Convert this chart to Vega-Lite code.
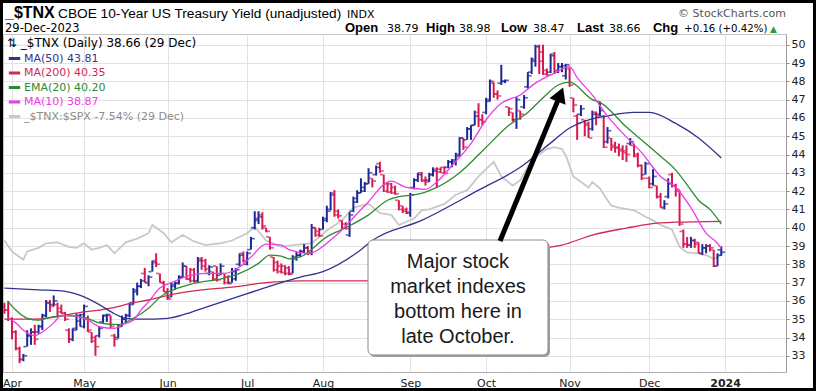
{
"$schema":"https://vega.github.io/schema/vega-lite/v6.json",
"width":783,"height":338,
"autosize":{"type":"none"},
"padding":{"left":3,"top":34,"right":30,"bottom":19},
"background":"#ffffff",
"config":{"view":{"stroke":"#c4c4c4"},"axis":{"labelFont":"DejaVu Sans","labelFontSize":11,"labelColor":"#222222","gridColor":"#e2e2e2","domainColor":"#9a9a9a","tickColor":"#8a8a8a","labelOverlap":false,"labelSeparation":0},"axisY":{"labelOverlap":false,"tickCount":20},"axisRight":{"labelOverlap":false}},
"datasets":{"tnx":[
{"d":"2023-03-30","o":35.7,"h":35.9,"l":35.3,"c":35.5,"ma50":36.7,"ma200":35.0,"rel":39.3},
{"d":"2023-03-31","o":35.5,"h":36.0,"l":34.9,"c":35.0,"ema20":35.95,"ma10":35.05},
{"d":"2023-04-03","o":35.0,"h":35.1,"l":33.9,"c":34.3,"rel":38.7},
{"d":"2023-04-04","o":34.3,"h":34.4,"l":33.3,"c":33.4,"ema20":35.5,"ma10":34.8},
{"d":"2023-04-05","o":33.4,"h":33.5,"l":32.6,"c":32.8},
{"d":"2023-04-06","o":32.8,"h":33.1,"l":32.7,"c":33.0,"ma10":34.4,"rel":38.25},
{"d":"2023-04-10","o":33.5,"h":34.4,"l":33.5,"c":34.1,"ema20":35.05,"rel":38.7},
{"d":"2023-04-11","o":34.1,"h":34.5,"l":33.6,"c":34.3},
{"d":"2023-04-12","o":34.3,"h":34.7,"l":33.6,"c":33.9,"ma200":35.0,"ma10":34.1},
{"d":"2023-04-13","o":34.3,"h":34.7,"l":34.2,"c":34.6,"ma50":36.6,"ema20":34.95,"rel":38.9},
{"d":"2023-04-14","o":34.6,"h":35.3,"l":34.4,"c":35.2,"ma10":34.3},
{"d":"2023-04-17","o":35.2,"h":36.05,"l":35.1,"c":35.9,"rel":39.15},
{"d":"2023-04-18","o":35.9,"h":36.05,"l":35.4,"c":35.7,"ema20":35.1},
{"d":"2023-04-19","o":35.8,"h":36.3,"l":35.7,"c":36.0,"ma10":34.8},
{"d":"2023-04-20","o":35.8,"h":35.9,"l":35.1,"c":35.4,"rel":39.2},
{"d":"2023-04-21","o":35.6,"h":35.8,"l":35.3,"c":35.35,"ma50":36.55,"ma10":35.2},
{"d":"2023-04-24","o":35.3,"h":35.4,"l":34.9,"c":35.0,"ema20":35.2},
{"d":"2023-04-25","o":34.4,"h":34.5,"l":33.7,"c":33.9,"rel":38.95},
{"d":"2023-04-26","o":33.9,"h":34.5,"l":33.8,"c":34.4,"ma10":35.2},
{"d":"2023-04-27","o":34.5,"h":35.3,"l":34.4,"c":35.2,"rel":38.9},
{"d":"2023-04-28","o":34.9,"h":35.3,"l":34.6,"c":35.25,"ma50":36.3},
{"d":"2023-05-01","o":34.6,"h":35.8,"l":34.5,"c":35.7,"ma200":35.4,"ema20":35.1,"rel":39.15},
{"d":"2023-05-02","o":35.0,"h":35.2,"l":34.3,"c":34.4,"ma10":34.95},
{"d":"2023-05-03","o":34.3,"h":34.3,"l":33.7,"c":33.8,"rel":38.8},
{"d":"2023-05-04","o":34.0,"h":34.1,"l":33.0,"c":33.5},
{"d":"2023-05-05","o":34.1,"h":34.6,"l":34.0,"c":34.5,"ma50":35.8,"ma200":35.5,"ema20":34.8,"ma10":34.6,"rel":38.9},
{"d":"2023-05-08","o":34.85,"h":35.25,"l":34.8,"c":35.2},
{"d":"2023-05-09","o":35.2,"h":35.3,"l":34.85,"c":35.25,"rel":39.05},
{"d":"2023-05-10","o":35.2,"h":35.2,"l":34.5,"c":34.6,"ma200":35.6},
{"d":"2023-05-11","o":34.1,"h":34.2,"l":33.5,"c":33.9,"ma50":35.3,"ma10":34.5,"rel":38.6},
{"d":"2023-05-12","o":34.0,"h":34.7,"l":33.95,"c":34.6,"ema20":34.7},
{"d":"2023-05-15","o":34.7,"h":35.2,"l":34.6,"c":35.0,"ma10":34.7},
{"d":"2023-05-16","o":35.0,"h":35.3,"l":34.8,"c":35.2,"ma50":35.05,"rel":39.2},
{"d":"2023-05-17","o":35.2,"h":35.9,"l":35.1,"c":35.8},
{"d":"2023-05-18","o":35.9,"h":36.7,"l":35.8,"c":36.6,"ma200":35.9,"ema20":35.05,"ma10":34.95},
{"d":"2023-05-19","o":36.5,"h":37.0,"l":36.3,"c":36.8,"rel":39.4},
{"d":"2023-05-22","o":36.8,"h":37.2,"l":36.7,"c":37.1,"ma50":35.0,"ma10":35.5},
{"d":"2023-05-23","o":37.5,"h":37.8,"l":37.0,"c":37.0},
{"d":"2023-05-24","o":37.0,"h":37.4,"l":36.8,"c":37.3,"ma200":36.05,"ema20":35.6,"ma10":35.95,"rel":39.7},
{"d":"2023-05-25","o":37.6,"h":38.2,"l":37.6,"c":38.1,"rel":40.15},
{"d":"2023-05-26","o":38.2,"h":38.6,"l":37.85,"c":38.0},
{"d":"2023-05-30","o":37.5,"h":37.5,"l":37.0,"c":37.0,"ema20":36.2,"ma10":36.7},
{"d":"2023-05-31","o":37.0,"h":37.1,"l":36.5,"c":36.5,"rel":39.7},
{"d":"2023-06-01","o":36.5,"h":36.7,"l":36.05,"c":36.1,"ma50":35.05,"ma200":36.3},
{"d":"2023-06-02","o":36.2,"h":37.0,"l":36.2,"c":36.9,"ma10":37.0,"rel":39.2},
{"d":"2023-06-05","o":36.8,"h":37.05,"l":36.6,"c":36.95},
{"d":"2023-06-06","o":37.0,"h":37.4,"l":36.9,"c":37.3},
{"d":"2023-06-07","o":37.3,"h":38.1,"l":37.25,"c":37.9,"rel":39.6},
{"d":"2023-06-08","o":37.9,"h":37.9,"l":37.15,"c":37.2,"ma50":35.3},
{"d":"2023-06-09","o":37.2,"h":37.8,"l":37.0,"c":37.1,"ema20":36.9,"ma10":37.4},
{"d":"2023-06-12","o":37.7,"h":37.8,"l":37.0,"c":37.05,"rel":39.25},
{"d":"2023-06-13","o":37.1,"h":38.4,"l":37.0,"c":38.2},
{"d":"2023-06-14","o":38.3,"h":38.4,"l":37.7,"c":37.9,"ma200":36.6},
{"d":"2023-06-15","o":38.2,"h":38.3,"l":37.6,"c":37.75,"ma50":35.65,"ma10":37.5,"rel":39.05},
{"d":"2023-06-16","o":37.5,"h":37.95,"l":37.4,"c":37.85},
{"d":"2023-06-20","o":37.6,"h":37.6,"l":37.1,"c":37.2},
{"d":"2023-06-21","o":37.9,"h":37.9,"l":37.05,"c":37.15},
{"d":"2023-06-22","o":37.4,"h":38.05,"l":37.4,"c":37.9,"rel":39.15},
{"d":"2023-06-23","o":37.5,"h":37.5,"l":36.9,"c":37.0,"ema20":37.25,"ma10":37.5},
{"d":"2023-06-26","o":37.3,"h":37.4,"l":36.9,"c":36.95},
{"d":"2023-06-27","o":37.0,"h":37.8,"l":37.0,"c":37.6,"ma200":36.75,"rel":39.3},
{"d":"2023-06-28","o":37.2,"h":37.8,"l":37.1,"c":37.7},
{"d":"2023-06-29","o":38.0,"h":38.6,"l":37.9,"c":38.5,"ema20":37.5,"ma10":37.85},
{"d":"2023-06-30","o":38.6,"h":38.7,"l":38.1,"c":38.2},
{"d":"2023-07-03","o":38.0,"h":38.7,"l":37.95,"c":38.6,"ma50":36.4,"rel":39.7},
{"d":"2023-07-05","o":38.8,"h":39.5,"l":38.8,"c":39.4,"ma10":38.4},
{"d":"2023-07-06","o":40.0,"h":40.9,"l":39.9,"c":40.5,"rel":40.05},
{"d":"2023-07-07","o":40.4,"h":40.9,"l":40.2,"c":40.6,"ema20":38.05},
{"d":"2023-07-10","o":40.7,"h":40.85,"l":39.9,"c":40.1},
{"d":"2023-07-11","o":40.0,"h":40.0,"l":39.75,"c":39.8,"ma200":37.0,"ma10":39.1,"rel":39.3},
{"d":"2023-07-12","o":39.5,"h":39.5,"l":38.8,"c":38.9,"ema20":38.5},
{"d":"2023-07-13","o":38.4,"h":38.4,"l":37.6,"c":37.7},
{"d":"2023-07-14","o":38.1,"h":38.2,"l":37.5,"c":37.6},
{"d":"2023-07-17","o":37.9,"h":38.05,"l":37.5,"c":37.55,"ma50":37.0,"ema20":38.45,"ma10":39.05,"rel":38.95},
{"d":"2023-07-18","o":37.9,"h":37.95,"l":37.4,"c":37.5},
{"d":"2023-07-19","o":37.8,"h":37.9,"l":37.4,"c":37.45,"ema20":38.3,"ma10":38.8},
{"d":"2023-07-20","o":37.5,"h":38.5,"l":37.5,"c":38.4,"rel":39.05},
{"d":"2023-07-21","o":38.3,"h":38.7,"l":38.2,"c":38.5},
{"d":"2023-07-24","o":38.5,"h":38.8,"l":38.4,"c":38.7,"ma50":37.3,"ma200":37.1,"ema20":38.4},
{"d":"2023-07-25","o":38.7,"h":39.1,"l":38.6,"c":38.9},
{"d":"2023-07-26","o":38.9,"h":39.0,"l":38.5,"c":38.6,"ma10":38.6},
{"d":"2023-07-27","o":38.6,"h":40.2,"l":38.5,"c":40.0,"rel":39.15},
{"d":"2023-07-28","o":40.0,"h":40.0,"l":39.5,"c":39.6},
{"d":"2023-07-31","o":39.8,"h":40.0,"l":39.5,"c":39.55},
{"d":"2023-08-01","o":39.9,"h":40.6,"l":39.9,"c":40.5,"ma50":37.6},
{"d":"2023-08-02","o":40.4,"h":41.2,"l":40.3,"c":40.9,"ema20":39.5,"rel":39.85},
{"d":"2023-08-03","o":41.0,"h":41.95,"l":40.95,"c":41.8},
{"d":"2023-08-04","o":41.9,"h":42.05,"l":40.6,"c":40.7,"ma200":37.1,"ma10":39.5},
{"d":"2023-08-07","o":40.9,"h":41.0,"l":40.5,"c":40.65},
{"d":"2023-08-08","o":40.4,"h":40.4,"l":39.9,"c":40.0,"rel":40.4},
{"d":"2023-08-09","o":40.2,"h":40.3,"l":39.9,"c":39.95,"ema20":40.0},
{"d":"2023-08-10","o":39.6,"h":40.85,"l":39.5,"c":40.7},
{"d":"2023-08-11","o":40.9,"h":41.7,"l":40.85,"c":41.6,"rel":41.1},
{"d":"2023-08-14","o":41.4,"h":42.05,"l":41.35,"c":41.9},
{"d":"2023-08-15","o":41.9,"h":42.7,"l":41.9,"c":42.2,"ma50":38.8},
{"d":"2023-08-16","o":42.0,"h":42.5,"l":41.95,"c":42.4,"ma10":41.2},
{"d":"2023-08-17","o":42.4,"h":43.25,"l":42.4,"c":43.0,"ma200":37.1,"ema20":40.7,"rel":41.3},
{"d":"2023-08-18","o":42.7,"h":42.7,"l":42.2,"c":42.55,"ma50":39.3},
{"d":"2023-08-21","o":42.9,"h":43.4,"l":42.85,"c":43.3},
{"d":"2023-08-22","o":43.5,"h":43.6,"l":43.0,"c":43.1,"rel":40.8},
{"d":"2023-08-23","o":42.9,"h":42.9,"l":41.95,"c":42.0},
{"d":"2023-08-24","o":42.4,"h":42.5,"l":41.9,"c":41.95,"ema20":41.5},
{"d":"2023-08-25","o":42.4,"h":42.45,"l":41.85,"c":41.9,"ma10":42.55,"rel":40.7},
{"d":"2023-08-28","o":42.2,"h":42.3,"l":41.8,"c":41.85},
{"d":"2023-08-29","o":41.5,"h":41.5,"l":40.95,"c":41.0,"ema20":41.7,"rel":40.15},
{"d":"2023-08-30","o":41.2,"h":41.2,"l":40.8,"c":40.9},
{"d":"2023-08-31","o":41.0,"h":41.1,"l":40.75,"c":40.85,"ma10":42.2},
{"d":"2023-09-01","o":40.8,"h":41.9,"l":40.6,"c":41.8},
{"d":"2023-09-05","o":42.2,"h":42.7,"l":42.1,"c":42.6,"ema20":41.8,"rel":40.5},
{"d":"2023-09-06","o":42.6,"h":43.0,"l":42.5,"c":42.9},
{"d":"2023-09-07","o":43.0,"h":43.05,"l":42.5,"c":42.55,"ma50":40.4,"rel":40.95},
{"d":"2023-09-08","o":42.6,"h":42.8,"l":42.3,"c":42.5,"ema20":41.95,"ma10":42.1},
{"d":"2023-09-11","o":42.6,"h":43.0,"l":42.5,"c":42.9,"rel":41.0},
{"d":"2023-09-12","o":42.9,"h":43.3,"l":42.8,"c":43.1},
{"d":"2023-09-13","o":43.2,"h":43.3,"l":42.2,"c":43.05,"ema20":42.2,"ma10":42.5},
{"d":"2023-09-14","o":43.2,"h":43.3,"l":43.0,"c":43.0},
{"d":"2023-09-15","o":43.3,"h":43.35,"l":42.95,"c":42.97,"rel":41.3},
{"d":"2023-09-18","o":43.3,"h":43.7,"l":43.25,"c":43.6},
{"d":"2023-09-19","o":43.6,"h":43.75,"l":43.3,"c":43.7,"ma200":37.9,"ma10":43.4},
{"d":"2023-09-20","o":43.6,"h":44.1,"l":43.4,"c":43.9,"rel":41.8},
{"d":"2023-09-21","o":44.0,"h":44.95,"l":43.9,"c":44.9,"ema20":43.0},
{"d":"2023-09-22","o":44.9,"h":44.9,"l":44.25,"c":44.4},
{"d":"2023-09-25","o":44.8,"h":45.5,"l":44.8,"c":45.4,"rel":42.05},
{"d":"2023-09-26","o":45.4,"h":45.6,"l":44.8,"c":45.6,"ma10":44.6},
{"d":"2023-09-27","o":45.6,"h":46.4,"l":45.6,"c":46.1},
{"d":"2023-09-28","o":46.3,"h":46.8,"l":45.5,"c":45.9,"ma50":42.05,"rel":42.8},
{"d":"2023-09-29","o":45.9,"h":46.2,"l":45.6,"c":45.8},
{"d":"2023-10-02","o":46.3,"h":47.1,"l":46.2,"c":46.9,"ema20":44.4,"ma10":45.9},
{"d":"2023-10-03","o":47.0,"h":48.1,"l":46.9,"c":48.0},
{"d":"2023-10-04","o":47.9,"h":47.95,"l":47.1,"c":47.3,"rel":43.6},
{"d":"2023-10-05","o":47.3,"h":47.5,"l":47.0,"c":47.2},
{"d":"2023-10-06","o":47.9,"h":48.9,"l":47.8,"c":48.0,"ma10":46.8,"rel":42.8},
{"d":"2023-10-09","o":48.0,"h":48.1,"l":47.9,"c":48.05},
{"d":"2023-10-10","o":46.6,"h":46.6,"l":46.1,"c":46.5,"ema20":45.6},
{"d":"2023-10-11","o":46.3,"h":46.3,"l":45.8,"c":45.9,"rel":42.3},
{"d":"2023-10-12","o":45.9,"h":47.15,"l":45.4,"c":47.0},
{"d":"2023-10-13","o":46.4,"h":46.4,"l":45.9,"c":46.2,"ma50":43.3,"ma10":47.25,"rel":42.6},
{"d":"2023-10-16","o":46.6,"h":47.25,"l":46.5,"c":47.1},
{"d":"2023-10-17","o":47.7,"h":48.5,"l":47.6,"c":48.3,"ema20":46.3},
{"d":"2023-10-18","o":48.5,"h":49.3,"l":48.4,"c":49.1,"rel":43.7},
{"d":"2023-10-19","o":49.2,"h":50.0,"l":48.8,"c":49.9,"ma10":47.9},
{"d":"2023-10-20","o":49.9,"h":50.0,"l":48.4,"c":49.1},
{"d":"2023-10-23","o":49.6,"h":50.0,"l":48.35,"c":48.4,"ema20":47.1},
{"d":"2023-10-24","o":48.6,"h":48.7,"l":48.3,"c":48.35,"ma200":38.9,"rel":44.3},
{"d":"2023-10-25","o":48.5,"h":49.5,"l":48.45,"c":49.4},
{"d":"2023-10-26","o":49.5,"h":49.6,"l":48.4,"c":48.6,"ma50":44.8,"ma10":48.45,"rel":44.4},
{"d":"2023-10-27","o":48.5,"h":49.0,"l":48.45,"c":48.8,"ema20":47.8},
{"d":"2023-10-30","o":48.8,"h":49.0,"l":48.5,"c":48.85,"ma200":39.05,"rel":44.3},
{"d":"2023-10-31","o":48.3,"h":48.95,"l":48.1,"c":48.9,"rel":43.95},
{"d":"2023-11-01","o":48.7,"h":48.75,"l":47.7,"c":47.8,"ma50":45.45,"ema20":47.95,"ma10":48.8},
{"d":"2023-11-02","o":47.1,"h":47.1,"l":46.3,"c":46.7,"rel":42.8},
{"d":"2023-11-03","o":46.1,"h":46.2,"l":44.8,"c":45.7,"ma10":48.2},
{"d":"2023-11-06","o":46.2,"h":46.7,"l":46.1,"c":46.5,"rel":42.5},
{"d":"2023-11-07","o":45.9,"h":45.9,"l":45.0,"c":45.7},
{"d":"2023-11-08","o":45.6,"h":45.8,"l":44.9,"c":44.9,"rel":42.2},
{"d":"2023-11-09","o":45.4,"h":46.4,"l":45.3,"c":46.2,"ma200":39.6,"ema20":47.0,"ma10":47.25,"rel":42.5},
{"d":"2023-11-10","o":46.3,"h":46.35,"l":45.6,"c":46.1},
{"d":"2023-11-13","o":46.2,"h":46.9,"l":46.1,"c":46.4,"ema20":46.85,"rel":42.15},
{"d":"2023-11-14","o":46.1,"h":46.15,"l":44.35,"c":44.4},
{"d":"2023-11-15","o":44.7,"h":45.5,"l":44.6,"c":45.3,"ma10":46.1,"rel":41.5},
{"d":"2023-11-16","o":44.9,"h":44.9,"l":44.2,"c":44.4,"ma50":46.15,"rel":41.2},
{"d":"2023-11-17","o":44.5,"h":44.7,"l":44.1,"c":44.35},
{"d":"2023-11-20","o":44.4,"h":44.6,"l":43.9,"c":44.2,"rel":41.1},
{"d":"2023-11-21","o":44.3,"h":44.5,"l":43.7,"c":44.1},
{"d":"2023-11-22","o":44.2,"h":44.5,"l":43.6,"c":44.0,"ma200":39.98,"ema20":45.5,"ma10":44.95},
{"d":"2023-11-24","o":44.6,"h":44.9,"l":44.5,"c":44.7},
{"d":"2023-11-27","o":44.5,"h":44.6,"l":43.85,"c":43.9,"ma50":46.3,"rel":40.95},
{"d":"2023-11-28","o":44.0,"h":44.1,"l":43.3,"c":43.4},
{"d":"2023-11-29","o":43.4,"h":43.45,"l":42.6,"c":42.7,"ma10":44.1},
{"d":"2023-11-30","o":42.9,"h":43.6,"l":42.9,"c":43.5,"rel":40.6},
{"d":"2023-12-01","o":42.7,"h":42.8,"l":42.15,"c":42.2,"ma50":46.3,"ma200":40.2},
{"d":"2023-12-04","o":42.4,"h":43.2,"l":42.3,"c":42.8,"rel":40.4},
{"d":"2023-12-05","o":42.3,"h":42.3,"l":41.6,"c":41.7},
{"d":"2023-12-06","o":41.7,"h":41.9,"l":41.1,"c":41.1,"ema20":43.9,"ma10":42.8,"rel":40.15},
{"d":"2023-12-07","o":41.1,"h":41.5,"l":41.0,"c":41.3},
{"d":"2023-12-08","o":41.7,"h":42.7,"l":41.6,"c":42.4},
{"d":"2023-12-11","o":42.9,"h":43.0,"l":42.2,"c":42.3,"rel":39.9},
{"d":"2023-12-12","o":42.3,"h":42.4,"l":41.7,"c":42.1,"ma50":45.7,"ma200":40.3,"ema20":43.15,"ma10":42.2},
{"d":"2023-12-13","o":42.0,"h":42.05,"l":40.1,"c":40.2,"rel":38.95},
{"d":"2023-12-14","o":39.8,"h":39.9,"l":38.9,"c":39.1},
{"d":"2023-12-15","o":39.1,"h":39.5,"l":38.9,"c":39.05,"rel":38.65},
{"d":"2023-12-18","o":39.05,"h":39.5,"l":38.9,"c":39.3,"ema20":42.05,"ma10":41.1},
{"d":"2023-12-19","o":39.3,"h":39.4,"l":38.9,"c":39.2},
{"d":"2023-12-20","o":39.1,"h":39.2,"l":38.6,"c":38.6,"ma50":44.9,"ema20":41.5,"rel":38.6},
{"d":"2023-12-21","o":38.6,"h":39.1,"l":38.5,"c":38.9},
{"d":"2023-12-22","o":38.9,"h":39.1,"l":38.6,"c":39.0,"ma10":39.7,"rel":38.5},
{"d":"2023-12-26","o":39.0,"h":39.1,"l":38.7,"c":38.9,"ema20":41.0},
{"d":"2023-12-27","o":38.8,"h":38.8,"l":37.85,"c":37.9,"rel":38.3},
{"d":"2023-12-28","o":37.9,"h":38.6,"l":37.9,"c":38.5,"ma10":39.15},
{"d":"2023-12-29","o":38.79,"h":38.98,"l":38.47,"c":38.66,"ma50":43.81,"ma200":40.35,"ema20":40.2,"ma10":38.87,"rel":38.5}
]},
"layer":[
{"data":{"name":"tnx"},
 "transform":[{"window":[{"op":"row_number","as":"n"}],"sort":[{"field":"d"}]},{"fold":["rel"],"as":["s","v"]},{"filter":"isValid(datum.v)"}],
 "mark":{"type":"line","strokeWidth":1.8,"clip":true},
 "encoding":{
  "x":{"field":"n","type":"quantitative","title":null,"scale":{"domain":[0.627,207.06],"nice":false,"zero":false},
   "axis":{"orient":"bottom","values":[3,22,44,65,85,108,128,150,171,191],"labelExpr":"datum.value==3?'Apr':datum.value==22?'May':datum.value==44?'Jun':datum.value==65?'Jul':datum.value==85?'Aug':datum.value==108?'Sep':datum.value==128?'Oct':datum.value==150?'Nov':datum.value==171?'Dec':'2024'","grid":true,"ticks":false,"domainDash":[1,2],"domainColor":"#888888","labelPadding":5,"labelOverlap":false,"labelFlush":false,"labelFontWeight":{"condition":{"test":"datum.value == 191","value":"bold"},"value":"normal"}}},
  "y":{"field":"v","type":"quantitative","title":null,"scale":{"domain":[32.115,50.585],"nice":false,"zero":false},
   "axis":{"orient":"right","values":[33,34,35,36,37,38,39,40,41,42,43,44,45,46,47,48,49,50],"format":"d","grid":true,"tickSize":3,"labelPadding":2,"labelOverlap":false}},
  "color":{"field":"s","type":"nominal","scale":{"domain":["ma50","ma200","ema20","ma10","rel"],"range":["#33338f","#cf2a52","#2f8a34","#ec3ce6","#c8c8c8"]},
   "legend":{"orient":"top-left","offset":4,"padding":0,"title":"⇅ _$TNX (Daily) 38.66 (29 Dec)","titleFont":"DejaVu Sans","titleFontSize":12,"titleFontWeight":"normal","titleColor":"#000000","titleLimit":400,"titlePadding":1,"labelFont":"DejaVu Sans","labelFontSize":11,"labelLimit":400,"labelOffset":2,"symbolType":"stroke","symbolSize":130,"symbolStrokeWidth":3,"rowPadding":0.5,
    "labelExpr":"datum.value == 'ma50' ? 'MA(50) 43.81' : datum.value == 'ma200' ? 'MA(200) 40.35' : datum.value == 'ema20' ? 'EMA(20) 40.20' : datum.value == 'ma10' ? 'MA(10) 38.87' : '_$TNX:$SPX -7.54% (29 Dec)'",
    "encode":{"labels":{"update":{"fill":{"signal":"datum.value == 'rel' ? '#8c8c8c' : scale('color', datum.value)"}}}}}}
 }},
{"data":{"name":"tnx"},
 "transform":[{"window":[{"op":"row_number","as":"n"},{"op":"lag","field":"c","as":"pc"}],"sort":[{"field":"d"}]}],
 "encoding":{"x":{"field":"n","type":"quantitative","title":null},
  "color":{"condition":{"test":"datum.pc != null && datum.c >= datum.pc","value":"#1c2796"},"value":"#d6194f"}},
 "layer":[
  {"mark":{"type":"rule","strokeWidth":2,"clip":true},"encoding":{"y":{"field":"l","type":"quantitative","title":null,"axis":{"orient":"right","values":[33,34,35,36,37,38,39,40,41,42,43,44,45,46,47,48,49,50],"format":"d","grid":true,"tickSize":3,"labelPadding":2,"labelOverlap":false}},"y2":{"field":"h"}}},
  {"mark":{"type":"tick","orient":"horizontal","size":3,"thickness":1.7,"xOffset":-2.3,"clip":true},"encoding":{"y":{"field":"o","type":"quantitative","title":null,"axis":{"orient":"right","values":[33,34,35,36,37,38,39,40,41,42,43,44,45,46,47,48,49,50],"format":"d","grid":true,"tickSize":3,"labelPadding":2,"labelOverlap":false}}}},
  {"mark":{"type":"tick","orient":"horizontal","size":3,"thickness":1.7,"xOffset":2.3,"clip":true},"encoding":{"y":{"field":"c","type":"quantitative","title":null,"axis":{"orient":"right","values":[33,34,35,36,37,38,39,40,41,42,43,44,45,46,47,48,49,50],"format":"d","grid":true,"tickSize":3,"labelPadding":2,"labelOverlap":false}}}}
 ]},
{"data":{"name":"tnx"},
 "transform":[{"window":[{"op":"row_number","as":"n"}],"sort":[{"field":"d"}]},{"fold":["ma200","ma50","ema20","ma10"],"as":["s","v"]},{"filter":"isValid(datum.v)"}],
 "mark":{"type":"line","strokeWidth":1.3,"interpolate":"monotone","clip":true},
 "encoding":{
  "x":{"field":"n","type":"quantitative","title":null},
  "y":{"field":"v","type":"quantitative","title":null,"axis":{"orient":"right","values":[33,34,35,36,37,38,39,40,41,42,43,44,45,46,47,48,49,50],"format":"d","grid":true,"tickSize":3,"labelPadding":2,"labelOverlap":false}},
  "color":{"field":"s","type":"nominal"}
 }},
{"data":{"values":[{}]},
 "mark":{"type":"rect","fill":"#a0a0a0","cornerRadius":5,"xOffset":2,"x2Offset":2,"yOffset":2,"y2Offset":2},
 "encoding":{"x":{"datum":96.86,"type":"quantitative","title":null},"x2":{"datum":144.31},"y":{"datum":39.328,"type":"quantitative","title":null},"y2":{"datum":33.044}}},
{"data":{"values":[{}]},
 "mark":{"type":"rect","fill":"#ffffff","stroke":"#8a8a8a","strokeWidth":1,"cornerRadius":5},
 "encoding":{"x":{"datum":96.86,"type":"quantitative","title":null},"x2":{"datum":144.31},"y":{"datum":39.328,"type":"quantitative","title":null},"y2":{"datum":33.044}}},
{"data":{"values":[{}]},
 "mark":{"type":"text","text":["Major stock","market indexes","bottom here in","late October."],"font":"Liberation Sans","fontSize":20,"lineHeight":25,"align":"center","baseline":"middle","color":"#1a1a1a"},
 "encoding":{"x":{"datum":120.58,"type":"quantitative","title":null},"y":{"datum":38.126,"type":"quantitative","title":null}}},
{"data":{"values":[{}]},
 "mark":{"type":"rule","strokeWidth":5,"color":"#000000","strokeCap":"butt"},
 "encoding":{"x":{"datum":131.66,"type":"quantitative","title":null},"y":{"datum":39.27,"type":"quantitative","title":null},"x2":{"datum":146.87},"y2":{"datum":46.93}}},
{"data":{"values":[{}]},
 "mark":{"type":"point","shape":"triangle-up","angle":22,"size":300,"filled":true,"color":"#000000","opacity":1},
 "encoding":{"x":{"datum":147.56,"type":"quantitative","title":null},"y":{"datum":47.28,"type":"quantitative","title":null}}},
{"data":{"values":[{}]},
 "mark":{"type":"rect","fillOpacity":0,"stroke":"#000000","strokeWidth":3,"clip":false},
 "encoding":{"x":{"datum":0.232,"type":"quantitative","title":null},"x2":{"datum":214.57},"y":{"datum":52.361,"type":"quantitative","title":null},"y2":{"datum":31.158}}},
{"data":{"values":[{}]},"mark":{"type":"text","text":"_$TNX","font":"Liberation Sans","fontSize":16,"fontWeight":"bold","align":"left","baseline":"alphabetic","color":"#000000"},
 "encoding":{"x":{"datum":1.154,"type":"quantitative","title":null},"y":{"datum":51.459,"type":"quantitative","title":null}}},
{"data":{"values":[{}]},"mark":{"type":"text","text":"CBOE 10-Year US Treasury Yield (unadjusted)","font":"Liberation Sans","fontSize":13.7,"align":"left","baseline":"alphabetic","color":"#000000"},
 "encoding":{"x":{"datum":15.128,"type":"quantitative","title":null},"y":{"datum":51.486,"type":"quantitative","title":null}}},
{"data":{"values":[{}]},"mark":{"type":"text","text":"INDX","font":"DejaVu Sans","fontSize":11,"align":"left","baseline":"alphabetic","color":"#000000"},
 "encoding":{"x":{"datum":91.32,"type":"quantitative","title":null},"y":{"datum":51.486,"type":"quantitative","title":null}}},
{"data":{"values":[{}]},"mark":{"type":"text","text":"© StockCharts.com","font":"DejaVu Sans","fontSize":11,"align":"right","baseline":"alphabetic","color":"#555555"},
 "encoding":{"x":{"datum":207.06,"type":"quantitative","title":null},"y":{"datum":51.514,"type":"quantitative","title":null}}},
{"data":{"values":[{}]},"mark":{"type":"text","text":"29-Dec-2023","font":"DejaVu Sans","fontSize":11.5,"align":"left","baseline":"alphabetic","color":"#000000"},
 "encoding":{"x":{"datum":1.154,"type":"quantitative","title":null},"y":{"datum":50.667,"type":"quantitative","title":null}}},
{"data":{"values":[{}]},"mark":{"type":"text","text":"Open","font":"Liberation Sans","fontSize":13,"fontWeight":"bold","align":"left","baseline":"alphabetic","color":"#000000"},
 "encoding":{"x":{"datum":90.79,"type":"quantitative","title":null},"y":{"datum":50.667,"type":"quantitative","title":null}}},
{"data":{"values":[{}]},"mark":{"type":"text","text":"38.79","font":"DejaVu Sans","fontSize":11,"align":"left","baseline":"alphabetic","color":"#000000"},
 "encoding":{"x":{"datum":101.87,"type":"quantitative","title":null},"y":{"datum":50.667,"type":"quantitative","title":null}}},
{"data":{"values":[{}]},"mark":{"type":"text","text":"High","font":"Liberation Sans","fontSize":13,"fontWeight":"bold","align":"left","baseline":"alphabetic","color":"#000000"},
 "encoding":{"x":{"datum":112.15,"type":"quantitative","title":null},"y":{"datum":50.667,"type":"quantitative","title":null}}},
{"data":{"values":[{}]},"mark":{"type":"text","text":"38.98","font":"DejaVu Sans","fontSize":11,"align":"left","baseline":"alphabetic","color":"#000000"},
 "encoding":{"x":{"datum":120.85,"type":"quantitative","title":null},"y":{"datum":50.667,"type":"quantitative","title":null}}},
{"data":{"values":[{}]},"mark":{"type":"text","text":"Low","font":"Liberation Sans","fontSize":13,"fontWeight":"bold","align":"left","baseline":"alphabetic","color":"#000000"},
 "encoding":{"x":{"datum":131.92,"type":"quantitative","title":null},"y":{"datum":50.667,"type":"quantitative","title":null}}},
{"data":{"values":[{}]},"mark":{"type":"text","text":"38.47","font":"DejaVu Sans","fontSize":11,"align":"left","baseline":"alphabetic","color":"#000000"},
 "encoding":{"x":{"datum":140.36,"type":"quantitative","title":null},"y":{"datum":50.667,"type":"quantitative","title":null}}},
{"data":{"values":[{}]},"mark":{"type":"text","text":"Last","font":"Liberation Sans","fontSize":13,"fontWeight":"bold","align":"left","baseline":"alphabetic","color":"#000000"},
 "encoding":{"x":{"datum":151.96,"type":"quantitative","title":null},"y":{"datum":50.667,"type":"quantitative","title":null}}},
{"data":{"values":[{}]},"mark":{"type":"text","text":"38.66","font":"DejaVu Sans","fontSize":11,"align":"left","baseline":"alphabetic","color":"#000000"},
 "encoding":{"x":{"datum":160.4,"type":"quantitative","title":null},"y":{"datum":50.667,"type":"quantitative","title":null}}},
{"data":{"values":[{}]},"mark":{"type":"text","text":"Chg","font":"Liberation Sans","fontSize":13,"fontWeight":"bold","align":"left","baseline":"alphabetic","color":"#000000"},
 "encoding":{"x":{"datum":171.99,"type":"quantitative","title":null},"y":{"datum":50.667,"type":"quantitative","title":null}}},
{"data":{"values":[{}]},"mark":{"type":"text","text":"+0.16 (+0.42%)","font":"DejaVu Sans","fontSize":10.2,"align":"left","baseline":"alphabetic","color":"#000000"},
 "encoding":{"x":{"datum":180.2,"type":"quantitative","title":null},"y":{"datum":50.667,"type":"quantitative","title":null}}},
{"data":{"values":[{}]},"mark":{"type":"text","text":"▲","font":"DejaVu Sans","fontSize":9,"align":"left","baseline":"alphabetic","color":"#2e9a3a"},
 "encoding":{"x":{"datum":202.84,"type":"quantitative","title":null},"y":{"datum":50.667,"type":"quantitative","title":null}}}
]
}
